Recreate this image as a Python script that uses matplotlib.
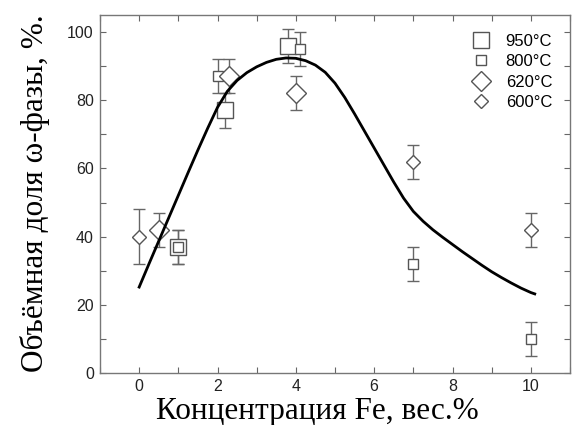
import matplotlib
matplotlib.use("Agg")
import matplotlib.pyplot as plt
from matplotlib.ticker import MultipleLocator

# ---- data ----
x950 = [1.0, 2.2, 3.8]
y950 = [37, 77, 96]
e950 = [5, 5, 5]

x800 = [1.0, 2.0, 4.1, 7.0, 10.0]
y800 = [37, 87, 95, 32, 10]
e800 = [5, 5, 5, 5, 5]

x620 = [0.5, 2.3, 4.0]
y620 = [42, 87, 82]
e620 = [5, 5, 5]

x600 = [0.0, 7.0, 10.0]
y600 = [40, 62, 42]
e600 = [8, 5, 5]

curve_x = [0.0, 0.25, 0.5, 0.75, 1.0, 1.25, 1.5, 1.75, 2.0, 2.25, 2.5, 2.75,
           3.0, 3.25, 3.5, 3.75, 4.0, 4.25, 4.5, 4.75, 5.0, 5.25, 5.5, 5.75,
           6.0, 6.25, 6.5, 6.75, 7.0, 7.25, 7.5, 7.75, 8.0, 8.25, 8.5, 8.75,
           9.0, 9.25, 9.5, 9.75, 10.0, 10.1]
curve_y = [25.2, 32.0, 38.7, 45.4, 52.1, 58.8, 65.4, 71.8, 77.9, 82.6, 85.8,
           88.1, 89.8, 91.1, 92.0, 92.4, 92.3, 91.6, 90.3, 88.2, 85.0, 80.8,
           76.0, 71.0, 66.0, 61.0, 56.0, 51.3, 47.4, 44.5, 42.0, 39.8, 37.7,
           35.6, 33.6, 31.6, 29.7, 28.0, 26.4, 24.9, 23.6, 23.2]

labels = ["950°C", "800°C", "620°C", "600°C"]

# ---- figure ----
fig = plt.figure(figsize=(5.72, 4.25), dpi=100)
ax = fig.add_axes([100/572, 1-373/425, 470/572, 358/425])

gray = "#555555"
ebc = "#666666"

def series(x, y, e, marker, ms, label):
    ax.errorbar(x, y, yerr=e, fmt="none", ecolor=ebc, elinewidth=1.0,
                capsize=4, capthick=1.0, zorder=2)
    h, = ax.plot(x, y, linestyle="none", marker=marker, ms=ms,
                 mfc="white", mec=gray, mew=1.0, zorder=3, label=label)
    return h

h1 = series(x950, y950, e950, "s", 11, labels[0])
h2 = series(x800, y800, e800, "s", 6.5, labels[1])
h3 = series(x620, y620, e620, "D", 10, labels[2])
h4 = series(x600, y600, e600, "D", 7, labels[3])

ax.plot(curve_x, curve_y, color="black", lw=2.0, zorder=4,
        solid_joinstyle="round")

ax.set_xlim(-1, 11)
ax.set_ylim(0, 105)
ax.xaxis.set_major_locator(MultipleLocator(2))
ax.xaxis.set_minor_locator(MultipleLocator(1))
ax.yaxis.set_major_locator(MultipleLocator(20))
ax.yaxis.set_minor_locator(MultipleLocator(10))
ax.tick_params(which="both", direction="in", top=True, right=True,
               length=4.5, width=0.8, color="#666666")
ax.tick_params(which="major", labelsize=11.5, labelcolor="#222222")
ax.tick_params(axis="x", which="major", pad=4)
ax.tick_params(axis="y", which="major", pad=4.5)
for lab in ax.get_xticklabels() + ax.get_yticklabels():
    lab.set_family("Liberation Sans")
for s in ax.spines.values():
    s.set_color("#777777")
    s.set_linewidth(1.0)

ax.set_xlabel("Концентрация Fe, вес.%", family="Liberation Serif",
              fontsize=22.5)
ax.set_ylabel("Объёмная доля ω-фазы, %.", family="Liberation Serif",
              fontsize=22.5)
ax.xaxis.set_label_coords(0.462, -0.066)
ax.yaxis.set_label_coords(-0.106, 0.501)

leg = ax.legend(handles=[h1, h2, h3, h4], loc="upper right",
                bbox_to_anchor=(0.962, 0.947), frameon=False,
                prop={"family": "Liberation Sans", "size": 12},
                handletextpad=0.9, labelspacing=0.32, borderaxespad=0.0,
                borderpad=0.0, handlelength=1.2)

fig.savefig("out.png", dpi=100)
